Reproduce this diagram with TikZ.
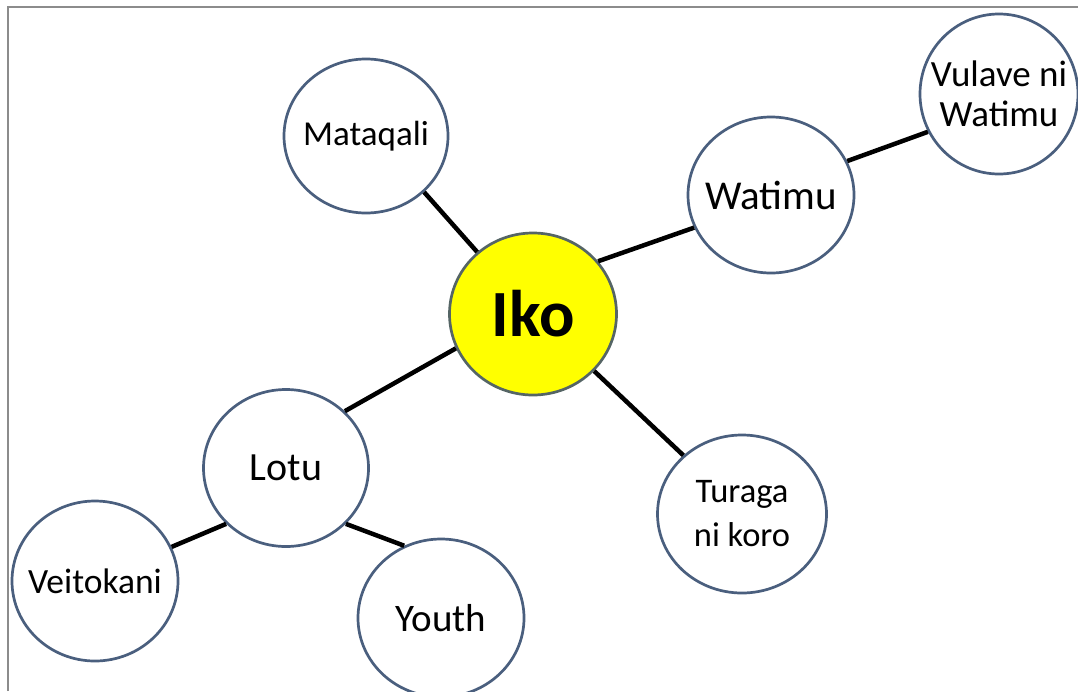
\documentclass[tikz,border=0pt]{standalone}
\usepackage{fontspec}
\setmainfont{Carlito}
\usetikzlibrary{shapes.geometric}
\definecolor{rim}{HTML}{4A5F7E}
\definecolor{frameline}{HTML}{8C8C8C}
\definecolor{hub}{HTML}{FFFF00}
\tikzset{
  bubble/.style={ellipse, draw=rim, line width=2.7pt, fill=white, inner sep=0pt,
    minimum width=166pt, minimum height=156pt},
  word/.style={align=center, text=black, inner sep=0pt},
  link/.style={line width=4.5pt, black}
}
\begin{document}
\begin{tikzpicture}[x=1pt, y=-1pt]
  \useasboundingbox (0,0) rectangle (1078,691);
  \fill[white] (0,0) rectangle (1078,691);
  % page frame, top and left edges
  \draw[frameline, line width=1.8pt] (8,691) -- (8,7) -- (1078,7);

  % centre
  \node[bubble, fill=hub, draw=rim!80!olive, minimum width=167pt, minimum height=162pt,
        label={[word, font=\fontsize{66}{72}\selectfont\bfseries]center:Iko}] (iko) at (533,314) {};

  % outer bubbles
  \node[bubble, minimum width=164pt, minimum height=154pt,
        label={[word, font=\fontsize{35}{42}\selectfont]center:Mataqali}] (mataqali) at (366,136) {};
  \node[bubble,
        label={[word, font=\fontsize{41}{46}\selectfont]center:Watimu}] (watimu) at (771,195) {};
  \node[bubble, minimum width=158pt, minimum height=160pt,
        label={[word, font=\fontsize{37}{40}\selectfont]center:{Vulave ni\\Watimu}}] (vulave) at (999,94) {};
  \node[bubble, minimum width=165pt, minimum height=157pt,
        label={[word, font=\fontsize{40}{46}\selectfont]center:Lotu}] (lotu) at (286,468) {};
  \node[bubble, minimum width=169pt, minimum height=158pt,
        label={[word, font=\fontsize{34.5}{44}\selectfont]center:{Turaga\\ni koro}}] (turaga) at (742,514) {};
  \node[bubble, minimum width=166pt, minimum height=160pt,
        label={[word, font=\fontsize{35.5}{42}\selectfont]center:Veitokani}] (veitokani) at (95,581) {};
  \node[bubble, minimum width=166pt, minimum height=158pt,
        label={[word, font=\fontsize{39}{44}\selectfont]center:Youth}] (youth) at (441,618) {};

  % connectors
  \draw[link] (iko.132) -- (mataqali.316);
  \draw[link] (iko.39) -- (watimu.203);
  \draw[link] (watimu.24) -- (vulave.208);
  \draw[link] (iko.204) -- (lotu.44);
  \draw[link] (iko.317) -- (turaga.135);
  \draw[link] (lotu.223) -- (veitokani.24);
  \draw[link] (lotu.317) -- (youth.117);
\end{tikzpicture}
\end{document}
